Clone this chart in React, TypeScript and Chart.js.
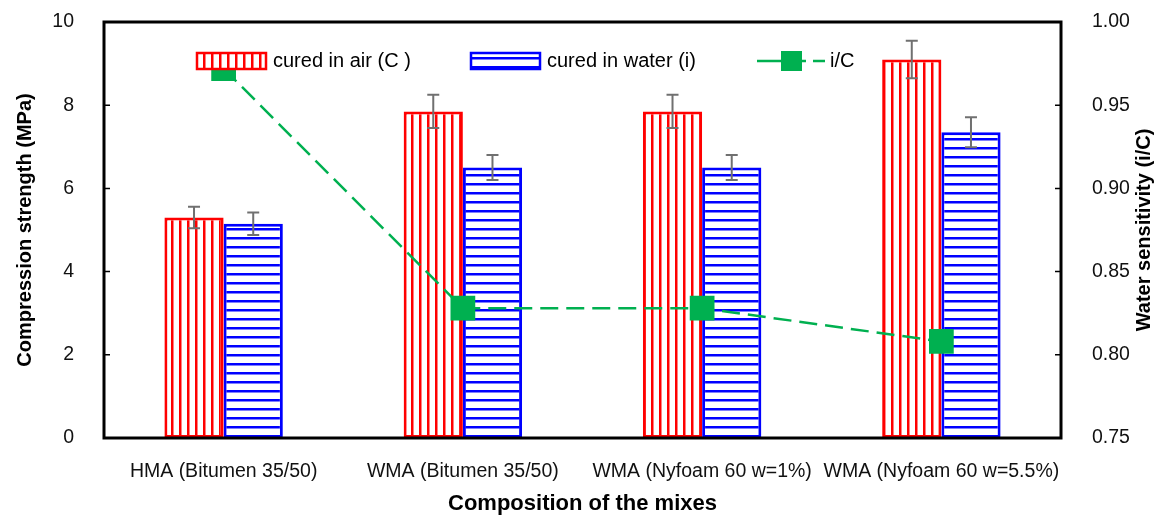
import React, { useEffect, useRef } from "react";
import { Chart, registerables } from "chart.js";

Chart.register(...registerables);

const categories = [
  "HMA (Bitumen 35/50)",
  "WMA (Bitumen 35/50)",
  "WMA (Nyfoam 60 w=1%)",
  "WMA (Nyfoam 60 w=5.5%)",
];
const airValues = [5.3, 7.85, 7.85, 9.1];
const airErrors = [0.26, 0.4, 0.4, 0.45];
const waterValues = [5.15, 6.5, 6.5, 7.35];
const waterErrors = [0.27, 0.3, 0.3, 0.36];
const ratioValues = [0.972, 0.828, 0.828, 0.808];

const leftTitle = "Compression strength (MPa)";
const rightTitle = "Water sensitivity (i/C)";
const xTitle = "Composition of the mixes";
const legendLabels = ["cured in air (C )", "cured in water (i)", "i/C"];

const RED = "#FF0000";
const BLUE = "#0000FF";
const GREEN = "#00B050";
const FONT = "'Liberation Sans', Arial, sans-serif";

function makePattern(kind: "v" | "h"): CanvasPattern | string {
  const c = document.createElement("canvas");
  const size = kind === "v" ? 8 : 9;
  c.width = size;
  c.height = size;
  const g = c.getContext("2d");
  if (!g) return "#fff";
  g.fillStyle = "#fff";
  g.fillRect(0, 0, size, size);
  if (kind === "v") {
    g.fillStyle = RED;
    g.fillRect(3, 0, 2.5, size);
  } else {
    g.fillStyle = BLUE;
    g.fillRect(0, 3, size, 2.5);
  }
  const p = g.createPattern(c, "repeat");
  return p || "#fff";
}

export default function App() {
  const ref = useRef<HTMLCanvasElement | null>(null);

  useEffect(() => {
    const canvas = ref.current;
    if (!canvas) return;
    const redPat = makePattern("v");
    const bluePat = makePattern("h");

    const errorPlugin = {
      id: "errorbars",
      afterDatasetDraw(chart: any, args: any) {
        const idx = args.index;
        const ds = chart.data.datasets[idx];
        if (ds.type !== "bar") return;
        const errs = idx === 1 ? airErrors : waterErrors;
        const vals = idx === 1 ? airValues : waterValues;
        const meta = chart.getDatasetMeta(idx);
        const y = chart.scales.y;
        const ctx = chart.ctx;
        ctx.save();
        ctx.strokeStyle = "#707070";
        ctx.lineWidth = 2;
        meta.data.forEach((el: any, i: number) => {
          const x = el.x;
          const top = y.getPixelForValue(vals[i] + errs[i]);
          const bot = y.getPixelForValue(vals[i] - errs[i]);
          ctx.beginPath();
          ctx.moveTo(x, top);
          ctx.lineTo(x, bot);
          ctx.moveTo(x - 6, top);
          ctx.lineTo(x + 6, top);
          ctx.moveTo(x - 6, bot);
          ctx.lineTo(x + 6, bot);
          ctx.stroke();
        });
        ctx.restore();
      },
    };

    const framePlugin = {
      id: "frame",
      afterDraw(chart: any) {
        const ctx = chart.ctx;
        const a = chart.chartArea;
        const y = chart.scales.y;
        const y1 = chart.scales.y1;
        ctx.save();
        ctx.strokeStyle = "#000";
        ctx.lineWidth = 3;
        ctx.strokeRect(a.left, a.top, a.right - a.left, a.bottom - a.top);
        ctx.lineWidth = 1.5;
        ctx.beginPath();
        y.ticks.forEach((t: any) => {
          const py = y.getPixelForValue(t.value);
          ctx.moveTo(a.left, py);
          ctx.lineTo(a.left + 6, py);
        });
        y1.ticks.forEach((t: any) => {
          const py = y1.getPixelForValue(t.value);
          ctx.moveTo(a.right, py);
          ctx.lineTo(a.right - 6, py);
        });
        ctx.stroke();

        // right axis title (reads bottom to top)
        ctx.fillStyle = "#000";
        ctx.font = `bold 20px ${FONT}`;
        ctx.textAlign = "center";
        ctx.textBaseline = "middle";
        ctx.translate(1144, (a.top + a.bottom) / 2);
        ctx.rotate(-Math.PI / 2);
        ctx.fillText(rightTitle, 0, 0);
        ctx.restore();

        // legend
        ctx.save();
        ctx.font = `20px ${FONT}`;
        ctx.textBaseline = "middle";
        ctx.textAlign = "left";
        ctx.fillStyle = "#000";
        const ly = 61;
        // red
        ctx.fillStyle = redPat;
        ctx.fillRect(197, 53, 69, 16);
        ctx.strokeStyle = RED;
        ctx.lineWidth = 2.5;
        ctx.strokeRect(197, 53, 69, 16);
        ctx.fillStyle = "#000";
        ctx.fillText(legendLabels[0], 273, ly);
        // blue
        ctx.fillStyle = bluePat;
        ctx.fillRect(471, 53, 69, 16);
        ctx.strokeStyle = BLUE;
        ctx.strokeRect(471, 53, 69, 16);
        ctx.fillStyle = "#000";
        ctx.fillText(legendLabels[1], 547, ly);
        // green
        ctx.strokeStyle = GREEN;
        ctx.lineWidth = 2.5;
        ctx.beginPath();
        ctx.moveTo(757, ly);
        ctx.lineTo(781, ly);
        ctx.moveTo(801, ly);
        ctx.lineTo(806, ly);
        ctx.moveTo(813, ly);
        ctx.lineTo(825, ly);
        ctx.stroke();
        ctx.fillStyle = GREEN;
        ctx.fillRect(781, 51, 21, 20);
        ctx.fillStyle = "#000";
        ctx.fillText(legendLabels[2], 830, ly);
        ctx.restore();
      },
    };

    const chart = new Chart(canvas, {
      type: "bar",
      data: {
        labels: categories,
        datasets: [
          {
            type: "line",
            label: legendLabels[2],
            data: ratioValues,
            yAxisID: "y1",
            borderColor: GREEN,
            backgroundColor: GREEN,
            borderWidth: 2.5,
            borderDash: [18, 8],
            pointStyle: "rect",
            pointRadius: 17.5,
            pointBorderWidth: 0,
            pointBackgroundColor: GREEN,
            tension: 0,
            order: 0,
          } as any,
          {
            type: "bar",
            label: legendLabels[0],
            data: airValues,
            yAxisID: "y",
            backgroundColor: redPat as any,
            borderColor: RED,
            borderWidth: 3,
            borderSkipped: false,
            categoryPercentage: 0.495,
            barPercentage: 1,
            order: 1,
          } as any,
          {
            type: "bar",
            label: legendLabels[1],
            data: waterValues,
            yAxisID: "y",
            backgroundColor: bluePat as any,
            borderColor: BLUE,
            borderWidth: 3,
            borderSkipped: false,
            categoryPercentage: 0.495,
            barPercentage: 1,
            order: 2,
          } as any,
        ],
      },
      options: {
        responsive: false,
        animation: false,
        devicePixelRatio: 1,
        layout: { padding: { top: 22, left: 0, right: 0, bottom: 0 } },
        plugins: {
          legend: { display: false },
          tooltip: { enabled: false },
        },
        scales: {
          x: {
            type: "category",
            offset: true,
            grid: { display: false },
            border: { display: false },
            ticks: {
              color: "#111",
              font: { size: 19.5, family: FONT },
              padding: 14,
              maxRotation: 0,
              autoSkip: false,
            },
            title: {
              display: true,
              text: xTitle,
              color: "#000",
              font: { size: 22, weight: "bold", family: FONT },
              padding: { top: 0, bottom: 0 },
            },
            afterFit(scale: any) {
              scale.height = 79;
              scale.paddingLeft = 0;
              scale.paddingRight = 0;
            },
          },
          y: {
            position: "left",
            min: 0,
            max: 10,
            grid: { display: false },
            border: { display: false },
            ticks: {
              stepSize: 2,
              color: "#111",
              font: { size: 19.5, family: FONT },
              padding: 22,
            },
            title: {
              display: true,
              text: leftTitle,
              color: "#000",
              font: { size: 20, weight: "bold", family: FONT },
              padding: { top: 13, bottom: 0 },
            },
            afterFit(scale: any) {
              scale.width = 104;
              scale.paddingTop = 0;
              scale.paddingBottom = 0;
            },
          },
          y1: {
            position: "right",
            min: 0.75,
            max: 1.0,
            grid: { display: false },
            border: { display: false },
            ticks: {
              stepSize: 0.05,
              color: "#111",
              font: { size: 19.5, family: FONT },
              padding: 23,
              callback: (v: any) => Number(v).toFixed(2),
            },
            afterFit(scale: any) {
              scale.width = 103;
              scale.paddingTop = 0;
              scale.paddingBottom = 0;
            },
          },
        },
      } as any,
      plugins: [errorPlugin, framePlugin],
    });
    return () => chart.destroy();
  }, []);

  return (
    <div style={{ position: "fixed", left: 0, top: 0, width: 1164, height: 517, background: "#fff" }}>
      <canvas ref={ref} width={1164} height={517} style={{ width: 1164, height: 517, display: "block" }} />
    </div>
  );
}
